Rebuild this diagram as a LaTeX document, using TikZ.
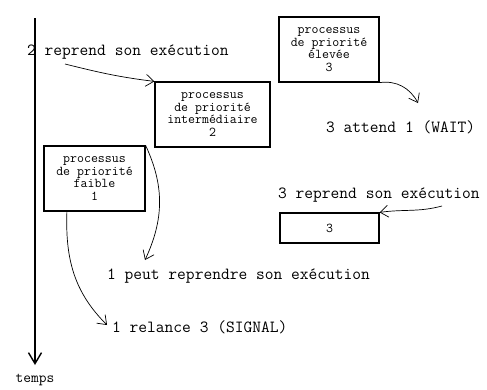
\documentclass[tikz,border=0pt]{standalone}
\usepackage{fontspec}
\usetikzlibrary{arrows.meta,calc}

\tikzset{
  procbox/.style={draw, line width=1.2pt, align=center, inner sep=0pt,
    font=\ttfamily\fontsize{13.5}{12.5}\selectfont},
  label/.style={anchor=west, inner sep=0pt, font=\ttfamily\fontsize{17}{17}\selectfont},
  link/.style={line width=0.7pt, -{Straight Barb[length=8pt,width=12pt]}},
  timeaxis/.style={line width=1.4pt, -{Straight Barb[length=11pt,width=13pt]}}
}

\begin{document}
\begin{tikzpicture}[x=1pt, y=-1pt]
  \useasboundingbox (0,0) rectangle (487,389);

  % time axis
  \coordinate (axtop) at (35,18);
  \coordinate (axend) at (35,365);
  \draw[timeaxis] (axtop) -- (axend);
  \node[font=\ttfamily\fontsize{15}{15}\selectfont] (temps) at (35,380) {temps};

  % processes
  \node[procbox, minimum width=115pt, minimum height=65pt] (p2) at (212.5,114.5)
    {processus\\de priorité\\intermédiaire\\2};
  \node[procbox, minimum width=100pt, minimum height=65pt] (p3) at (329,49.5)
    {processus\\de priorité\\élevée\\3};
  \node[procbox, minimum width=101pt, minimum height=65pt] (p1) at (94.5,178.5)
    {processus\\de priorité\\faible\\1};
  \node[procbox, minimum width=99pt, minimum height=30pt] (p3b) at (329.5,228) {3};

  % events
  \node[label] (t2) at (27,52) {2 reprend son exécution};
  \node[label] (twait) at (326,127) {3 attend 1 (WAIT)};
  \node[label] (t3) at (278,195) {3 reprend son exécution};
  \node[label] (tpeut) at (107,276) {1 peut reprendre son exécution};
  \node[label] (trel) at (112,327) {1 relance 3 (SIGNAL)};

  % connector ends
  \coordinate (s2) at (65,64);
  \coordinate (wait) at (418,103);
  \coordinate (s3) at (442,206);
  \coordinate (peut) at (145,260);
  \coordinate (rel) at (107,325);
  \coordinate (p1b) at ($(p1.south west)!0.23!(p1.south east)$);

  \draw[link] (s2) to[out=-14, in=173] (p2.north west);
  \draw[link] (p3.south east) to[out=8, in=118] (wait);
  \draw[link] (s3) to[out=195, in=8] (p3b.north east);
  \draw[link] (p1.north east) to[out=-65, in=65] (peut);
  \draw[link] (p1b) to[out=-92, in=135] (rel);
\end{tikzpicture}
\end{document}
